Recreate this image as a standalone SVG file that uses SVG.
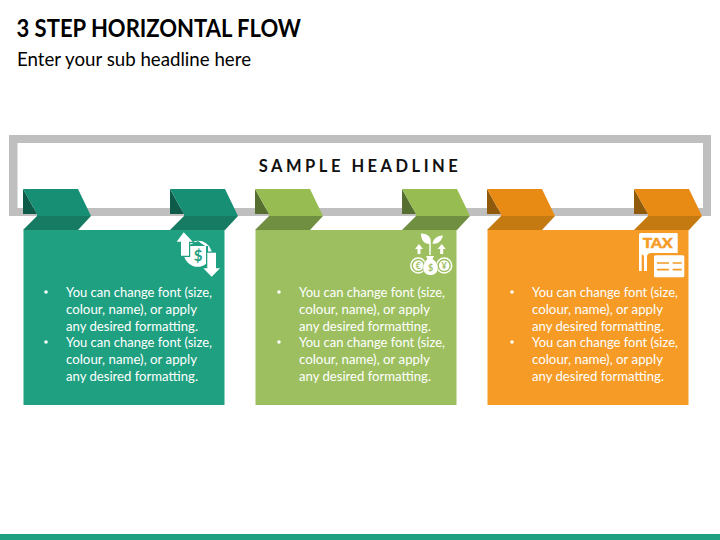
<svg xmlns="http://www.w3.org/2000/svg" xmlns:xlink="http://www.w3.org/1999/xlink" width="720" height="540" viewBox="0 0 720 540">
<style>
text{font-family:Lato,"Open Sans","Liberation Sans",sans-serif}
.title{font-size:24.5px;font-weight:700;fill:#000}
.sub{font-size:18.7px;fill:#000}
.head{font-size:16.5px;font-weight:700;letter-spacing:3.5px;fill:#111;text-anchor:middle}
.body{font-size:12.95px;fill:#fff}
.w{fill:#fff}
.box{fill:var(--box)}.top{fill:var(--top)}.low{fill:var(--low)}.tri{fill:var(--tri)}
.teal{--box:#1fa181;--top:#178f75;--low:#177a62;--tri:#0e5b4a}
.green{--box:#9dbf5f;--top:#97bc52;--low:#708f40;--tri:#566e30}
.orange{--box:#f59b26;--top:#e88b14;--low:#c47a10;--tri:#8f5a0b}
</style>
<defs>
<g id="tab">
<polygon class="tri" points="23,189 37,214 23,214"/>
<polygon class="low" points="37,216 91,216 78,230 23,230"/>
<polygon class="top" points="23,189 78,189 91,216 37,216 37,214"/>
</g>
<g id="card">
<rect class="box" x="23.5" y="230" width="201" height="175"/>
<use xlink:href="#tab" href="#tab"/>
<use xlink:href="#tab" href="#tab" x="147"/>
</g>
<g id="copy">
<circle class="w" cx="46" cy="292" r="1.800"/>
<circle class="w" cx="46" cy="342" r="1.800"/>
<text class="body" x="66" y="297" textLength="146" lengthAdjust="spacingAndGlyphs">You can change font (size,</text>
<text class="body" x="66" y="314" textLength="131" lengthAdjust="spacingAndGlyphs">colour, name), or apply</text>
<text class="body" x="66" y="331" textLength="132" lengthAdjust="spacingAndGlyphs">any desired formatting.</text>
<text class="body" x="66" y="347" textLength="146" lengthAdjust="spacingAndGlyphs">You can change font (size,</text>
<text class="body" x="66" y="364" textLength="131" lengthAdjust="spacingAndGlyphs">colour, name), or apply</text>
<text class="body" x="66" y="381" textLength="132" lengthAdjust="spacingAndGlyphs">any desired formatting.</text>
</g>
</defs>
<rect width="720" height="540" fill="#fff"/>
<text class="title" x="16.500" y="37" textLength="284.500" lengthAdjust="spacingAndGlyphs">3 STEP HORIZONTAL FLOW</text>
<text class="sub" x="17" y="66">Enter your sub headline here</text>
<rect x="0" y="534" width="720" height="6" fill="#1fa181"/>
<g id="frame">
<path d="M9 135H711V216H9ZM17.500 143V208H703V143Z" fill="#bfbfbf" fill-rule="evenodd"/>
<text class="head" x="360" y="172">SAMPLE HEADLINE</text>
</g>
<g id="step1" class="teal">
<use xlink:href="#card" href="#card"/>
<use xlink:href="#copy" href="#copy"/>
<g id="icon1">
<path class="w" d="M187 246A14 14 0 0 1 212 254L208 252V246H205L198 241Z"/>
<path class="w" d="M184 256H188V250H191V264H206A14 14 0 0 1 184 256Z"/>
<rect class="w" x="190" y="246" width="16" height="18"/>
<path d="M183.700 232.300L192.700 241.700H189V255.700H181V241.700H176.700Z" class="w" stroke="#1fa181" stroke-width="2.400" paint-order="stroke"/>
<path d="M207.300 252.700H216V268.300H220L211.700 276.700L203.300 268.300H207.300Z" class="w" stroke="#1fa181" stroke-width="2.400" paint-order="stroke"/>
<text x="198" y="261" text-anchor="middle" font-size="15" font-weight="700" fill="#1fa181">$</text>
</g>
</g>
<g id="step2" class="green">
<use xlink:href="#card" href="#card" x="232"/>
<use xlink:href="#copy" href="#copy" x="233"/>
<g id="icon2">
<path class="w" d="M421 233.500C428.500 233.500 432 238 430.500 244C424 244.500 421 240 421 233.500ZM443 235.500C441.500 241.500 437.500 244.500 432.500 243.500C433.500 238.500 437.500 235.500 443 235.500Z"/>
<path d="M430 243V255" stroke="#fff" stroke-width="1.500" fill="none"/>
<path class="w" d="M419 244L423 249H420.500V254H417.500V249H415Z"/>
<path class="w" d="M441.700 244L445.700 249H443.200V254H440.200V249H437.700Z"/>
<circle cx="418.300" cy="265.500" r="7.500" fill="none" stroke="#fff" stroke-width="1.500"/>
<circle cx="418.300" cy="265.500" r="5.300" class="w"/>
<circle cx="444.200" cy="265.500" r="7.500" fill="none" stroke="#fff" stroke-width="1.500"/>
<circle cx="444.200" cy="265.500" r="5.300" class="w"/>
<path class="w" stroke="#9dbf5f" stroke-width="1" paint-order="stroke" d="M426 256H434L432.500 259C437 262 438.500 266 437.500 270C436.500 274 433 275 431 275C428 275 424.500 274 423.500 270C422.500 266 424 262 427.500 259Z"/>
<text x="418.300" y="269" text-anchor="middle" font-size="9" font-weight="700" fill="#9dbf5f">€</text>
<text x="430.500" y="271" text-anchor="middle" font-size="9" font-weight="700" fill="#9dbf5f">$</text>
<text x="444.200" y="269" text-anchor="middle" font-size="9" font-weight="700" fill="#9dbf5f">¥</text>
</g>
</g>
<g id="step3" class="orange">
<use xlink:href="#card" href="#card" x="464"/>
<use xlink:href="#copy" href="#copy" x="466"/>
<g id="icon3">
<path class="w" d="M640.500 233H676.500Q677.700 233 677.700 234.200V253H651.500C648.500 253 647 254.500 647 257V271H644V257C644 255.500 643 254.500 641.700 254.500V271H639V234.500Q639 233 640.500 233Z"/>
<text x="642.700" y="247.500" font-size="12.300" font-weight="900" textLength="30" lengthAdjust="spacingAndGlyphs" fill="#f59b26" stroke="#f59b26" stroke-width="0.400">TAX</text>
<rect class="w" x="654" y="255.300" width="30.300" height="22" rx="1.500"/>
<path d="M657 263H669M672.700 263H681.700M657 269.700H669M672.700 269.700H681.700" stroke="#f59b26" stroke-width="1.700" fill="none"/>
</g>
</g>
</svg>
